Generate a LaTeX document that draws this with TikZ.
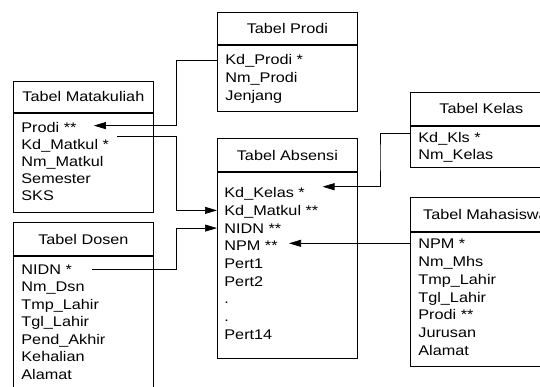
\documentclass[tikz,border=0pt]{standalone}
\usepackage{fontspec}
\setmainfont{Liberation Sans}[FakeStretch=1.16]
\usetikzlibrary{arrows.meta}
\newcommand\tblfont{\fontsize{14}{17}\selectfont}
\begin{document}
\begin{tikzpicture}[x=1pt,y=-1pt,line width=0.8pt,
  hdr/.style={draw, anchor=north west, inner sep=0pt, font=\tblfont, text height=10pt, text depth=0pt},
  bodybox/.style={draw, anchor=north, inner sep=0pt},
  row/.style={anchor=base west, inner sep=0pt, font=\tblfont, text height=10pt, text depth=0pt},
  link/.style={line width=0.7pt},
  arr/.style={link, -{Triangle[length=12pt,width=7pt]}}]
\useasboundingbox (0,0) rectangle (540,387);
\clip (0,0) rectangle (540,387);
\fill[white] (0,0) rectangle (540,387);
\coordinate (busL) at (176,0);
\coordinate (busR) at (380,0);

% Tabel Prodi
\node[hdr, minimum width=140pt, minimum height=32.3pt] (prodiH) at (217,12) {Tabel Prodi};
\node[bodybox, minimum width=140pt, minimum height=65.7pt] (prodiB) at (prodiH.south) {};
\node[row] (pKd) at (225,65) {Kd\_Prodi *};
\node[row] (pNm) at (225,82.7) {Nm\_Prodi};
\node[row] (pJj) at (225,100.4) {Jenjang};

% Tabel Matakuliah
\node[hdr, minimum width=140pt, minimum height=31pt] (mkH) at (13,81) {Tabel Matakuliah};
\node[bodybox, minimum width=140pt, minimum height=99pt] (mkB) at (mkH.south) {};
\node[row] (mPro) at (21,132.6) {Prodi **};
\node[row] (mKd) at (21,149.6) {Kd\_Matkul *};
\node[row] (mNm) at (21,166.6) {Nm\_Matkul};
\node[row] (mSm) at (21,183.6) {Semester};
\node[row] (mSk) at (21,200.6) {SKS};

% Tabel Dosen
\node[hdr, minimum width=140pt, minimum height=32.7pt] (dsH) at (13,222.3) {Tabel Dosen};
\node[bodybox, minimum width=140pt, minimum height=145pt] (dsB) at (dsH.south) {};
\node[row] (dNidn) at (21,274.3) {NIDN *};
\node[row] (dNm) at (21,291.75) {Nm\_Dsn};
\node[row] (dTmp) at (21,309.2) {Tmp\_Lahir};
\node[row] (dTgl) at (21,326.65) {Tgl\_Lahir};
\node[row] (dPend) at (21,344.1) {Pend\_Akhir};
\node[row] (dKeh) at (21,361.55) {Kehalian};
\node[row] (dAl) at (21,379) {Alamat};

% Tabel Absensi
\node[hdr, minimum width=140pt, minimum height=32.7pt] (absH) at (217,138.3) {Tabel Absensi};
\node[bodybox, minimum width=140pt, minimum height=185.7pt] (absB) at (absH.south) {};
\node[row] (aKel) at (224,197.7) {Kd\_Kelas *};
\node[row] (aMk) at (224,215.4) {Kd\_Matkul **};
\node[row] (aNidn) at (224,233.1) {NIDN **};
\node[row] (aNpm) at (224,250.8) {NPM **};
\node[row] (aP1) at (224,268.5) {Pert1};
\node[row] (aP2) at (224,286.2) {Pert2};
\node[row] (aD1) at (224,303.9) {.};
\node[row] (aD2) at (224,321.6) {.};
\node[row] (aP14) at (224,339.3) {Pert14};

% Tabel Kelas
\node[hdr, minimum width=142pt, minimum height=33.3pt] (kelH) at (410,91.7) {Tabel Kelas};
\node[bodybox, minimum width=142pt, minimum height=41.7pt] (kelB) at (kelH.south) {};
\node[row] (kKd) at (418,142.5) {Kd\_Kls *};
\node[row] (kNm) at (418,159.5) {Nm\_Kelas};

% Tabel Mahasiswa
\node[hdr, minimum width=150pt, minimum height=33.4pt] (mhH) at (410,197.3) {Tabel Mahasiswa};
\node[bodybox, minimum width=150pt, minimum height=134.3pt] (mhB) at (mhH.south) {};
\node[row] (hNpm) at (418,248.3) {NPM *};
\node[row] (hNm) at (418,266.2) {Nm\_Mhs};
\node[row] (hTmp) at (418,284.1) {Tmp\_Lahir};
\node[row] (hTgl) at (418,302) {Tgl\_Lahir};
\node[row] (hPro) at (418,319.9) {Prodi **};
\node[row] (hJur) at (418,337.8) {Jurusan};
\node[row] (hAl) at (418,355.7) {Alamat};

% connectors
\draw[arr] (prodiB.west |- pKd) -- (busL |- pKd) |- ([xshift=17pt,yshift=2pt]mPro.east);
\draw[arr] ([xshift=8pt,yshift=8pt]mKd.east) -| (busL |- aMk) -- (absB.west |- aMk);
\draw[arr] ([xshift=20pt]dNidn.east) -| (busL |- aNidn) -- (absB.west |- aNidn);
\draw[arr] ([xshift=-8pt,yshift=4pt]kKd.west) -| (busR |- absH) |- ([xshift=17.4pt,yshift=6pt]aKel.east);
\draw[arr] (mhB.west |- hNpm) -- ([xshift=11pt]aNpm.east |- hNpm);
\end{tikzpicture}
\end{document}
